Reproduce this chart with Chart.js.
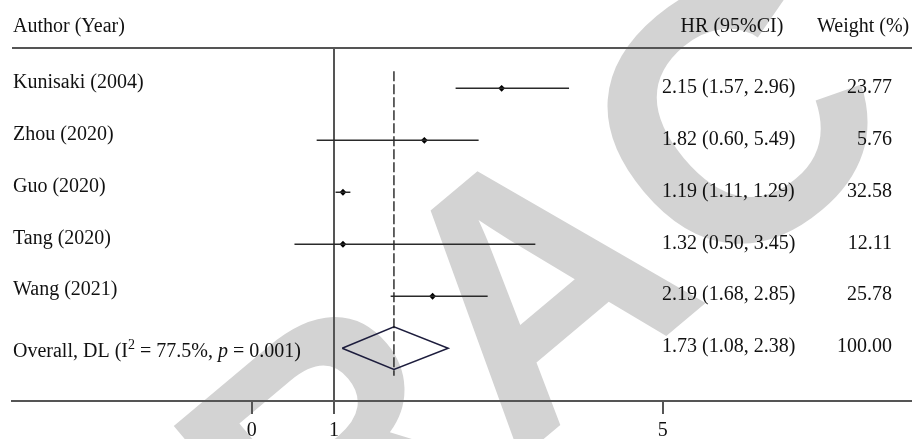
<!DOCTYPE html>
<html lang="en">
<head>
  <meta charset="UTF-8">
  <title>Forest plot</title>
  <script src="https://cdn.jsdelivr.net/npm/chart.js"></script>
  <style>
    html, body { margin: 0; padding: 0; background: #fff; }
    #wrap { width: 912px; height: 439px; position: relative; }
  </style>
</head>
<body>
  <div id="wrap"><canvas id="forest"></canvas></div>

  <script>
    // Study labels and printed columns
    const studies = ["Kunisaki (2004)", "Zhou (2020)", "Guo (2020)", "Tang (2020)", "Wang (2021)"];
    const hrText = ["2.15 (1.57, 2.96)", "1.82 (0.60, 5.49)", "1.19 (1.11, 1.29)", "1.32 (0.50, 3.45)", "2.19 (1.68, 2.85)", "1.73 (1.08, 2.38)"];
    const weights = ["23.77", "5.76", "32.58", "12.11", "25.78", "100.00"];

    // positions as drawn on the axis (point, lower, upper)
    const est = [3.04, 2.10, 1.11, 1.11, 2.20];
    const lower = [2.48, 0.79, 1.02, 0.52, 1.69];
    const upper = [3.86, 2.76, 1.20, 3.45, 2.87];

    // overall (diamond)
    const overallEst = 1.73;
    const overallLo = 1.10;
    const overallHi = 2.39;

    const xTicks = [0, 1, 5];

    const SERIF = "'Liberation Serif', 'Times New Roman', serif";
    const rows = studies.map((s, i) => i + 1);
    const overallRow = studies.length + 1;

    // one line dataset per confidence interval
    const ciSets = studies.map((s, i) => ({
      type: "line",
      data: [{ x: lower[i], y: rows[i] }, { x: upper[i], y: rows[i] }],
      borderColor: "#2a2a2a",
      borderWidth: 1.5,
      pointRadius: 0
    }));

    const dh = 0.41; // half height of diamond, in row units
    const diamond = {
      type: "line",
      data: [
        { x: overallLo, y: overallRow },
        { x: overallEst, y: overallRow - dh },
        { x: overallHi, y: overallRow },
        { x: overallEst, y: overallRow + dh },
        { x: overallLo, y: overallRow }
      ],
      borderColor: "#1d1d3d",
      borderWidth: 1.5,
      pointRadius: 0,
      tension: 0
    };

    const dashed = {
      type: "line",
      data: [{ x: overallEst, y: 0.67 }, { x: overallEst, y: overallRow + 0.53 }],
      borderColor: "#111",
      borderWidth: 1.3,
      borderDash: [10, 3],
      pointRadius: 0
    };

    const points = {
      type: "scatter",
      data: studies.map((s, i) => ({ x: est[i], y: rows[i] })),
      pointStyle: "rectRot",
      pointRadius: 3.4,
      backgroundColor: "#000",
      borderColor: "#000",
      borderWidth: 0
    };

    function drawRuns(ctx, runs, x, y, size) {
      let cx = x;
      runs.forEach(r => {
        const fs = r.sup ? size * 0.7 : size;
        ctx.font = (r.it ? "italic " : "") + fs + "px " + SERIF;
        ctx.fillText(r.t, cx, r.sup ? y - size * 0.36 : y);
        cx += ctx.measureText(r.t).width;
      });
    }

    const tablePlugin = {
      id: "table",
      beforeDraw(chart) {
        const ctx = chart.ctx;
        ctx.save();
        ctx.fillStyle = "#fff";
        ctx.fillRect(0, 0, chart.width, chart.height);
        // watermark
        ctx.translate(-237, 1094);
        ctx.rotate(-40 * Math.PI / 180);
        ctx.fillStyle = "#d3d3d3";
        ctx.font = "bold 360px 'Liberation Sans', Arial, sans-serif";
        ctx.textBaseline = "alphabetic";
        ctx.fillText("RETRACTED", 0, 0);
        ctx.restore();
      },
      afterDatasetsDraw(chart) {
        const ctx = chart.ctx;
        const area = chart.chartArea;
        const ys = chart.scales.y;
        ctx.save();
        // header rule and the rest of the axis line
        ctx.strokeStyle = "#555";
        ctx.lineWidth = 2;
        ctx.beginPath();
        ctx.moveTo(area.left, area.top);
        ctx.lineTo(chart.width, area.top);
        ctx.moveTo(area.right - 2, area.bottom);
        ctx.lineTo(chart.width, area.bottom);
        ctx.stroke();

        ctx.fillStyle = "#111";
        ctx.textBaseline = "middle";
        ctx.font = "20px " + SERIF;
        ctx.textAlign = "left";
        ctx.fillText("Author (Year)", area.left + 1, 27);
        ctx.textAlign = "center";
        ctx.fillText("HR (95%CI)", 732, 27);
        ctx.textAlign = "left";
        ctx.fillText("Weight (%)", 817, 27);

        studies.forEach((s, i) => {
          const y = ys.getPixelForValue(rows[i]);
          ctx.textAlign = "left";
          ctx.fillText(s, area.left + 1, y - 6);
        });
        const yo = ys.getPixelForValue(overallRow);
        ctx.textAlign = "left";
        drawRuns(ctx, [
          { t: "Overall, DL (I" }, { t: "2", sup: true }, { t: " = 77.5%, " },
          { t: "p", it: true }, { t: " = 0.001)" }
        ], area.left + 1, yo + 4, 20);

        ctx.font = "20px " + SERIF;
        hrText.forEach((t, i) => {
          const y = ys.getPixelForValue(i + 1);
          ctx.textAlign = "left";
          ctx.fillText(t, 662, y - 1);
          ctx.textAlign = "right";
          ctx.fillText(weights[i], 892, y - 1);
        });
        ctx.restore();
      }
    };

    new Chart(document.getElementById("forest"), {
      data: { datasets: [...ciSets, dashed, diamond, points] },
      options: {
        responsive: true,
        maintainAspectRatio: false,
        animation: false,
        devicePixelRatio: 1,
        layout: { padding: { top: 48, left: 12, right: 0, bottom: 0 } },
        plugins: { legend: { display: false }, tooltip: { enabled: false } },
        scales: {
          x: {
            type: "linear",
            min: -2.916,
            max: 7.983,
            afterBuildTicks: s => { s.ticks = xTicks.map(v => ({ value: v })); },
            afterFit: s => { s.height = 38; },
            grid: {
              drawOnChartArea: true,
              color: c => (c.tick && c.tick.value === 1 ? "#555" : "rgba(0,0,0,0)"),
              tickColor: "#555",
              lineWidth: 2,
              tickLength: 13
            },
            border: { display: true, color: "#555", width: 2 },
            ticks: {
              color: "#111",
              padding: 12,
              maxRotation: 0,
              font: { family: SERIF, size: 20, lineHeight: 0.5 }
            }
          },
          y: {
            type: "linear",
            display: false,
            reverse: true,
            min: 0.225,
            max: 7.015
          }
        }
      },
      plugins: [tablePlugin]
    });
  </script>
</body>
</html>
